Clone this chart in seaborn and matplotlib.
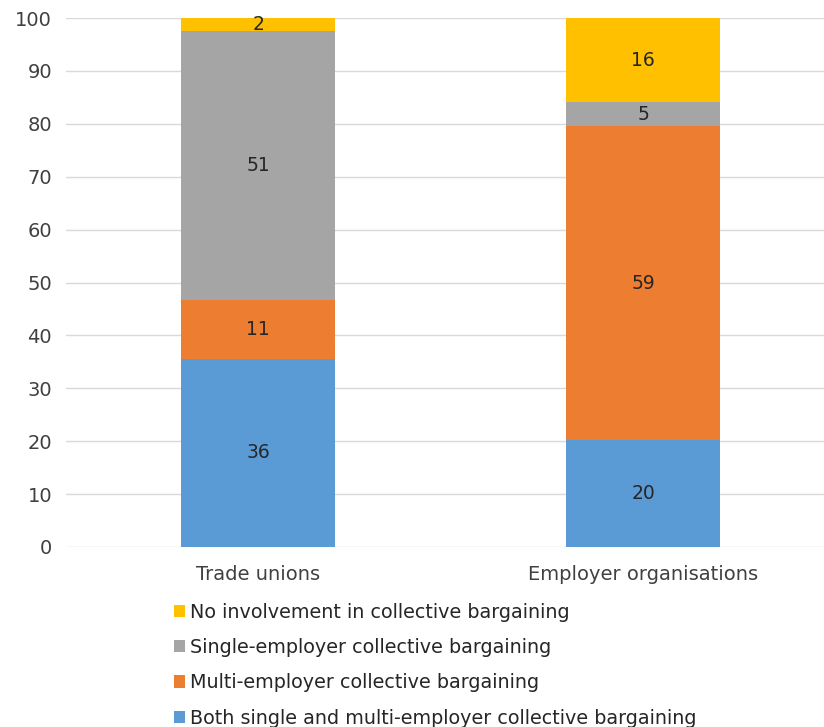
import matplotlib
matplotlib.use("Agg")
import matplotlib.pyplot as plt
import seaborn as sns
import pandas as pd
import numpy as np
from matplotlib.patches import Patch

categories = ["Trade unions", "Employer organisations"]
series_names = [
    "Both single and multi-employer collective bargaining",
    "Multi-employer collective bargaining",
    "Single-employer collective bargaining",
    "No involvement in collective bargaining",
]
both_vals = [35.6, 20.3]
multi_vals = [11.1, 59.2]
single_vals = [50.9, 4.6]
none_vals = [2.4, 15.9]
colors = ["#5B9BD5", "#ED7D31", "#A5A5A5", "#FFC000"]
yticks = [0, 10, 20, 30, 40, 50, 60, 70, 80, 90, 100]

sns.set_theme(style="white")
plt.rcParams["font.family"] = ["DejaVu Sans"]

fig = plt.figure(figsize=(8.24, 7.27), dpi=100)
ax = fig.add_axes([0.080, 0.2476, 0.92, 0.7276])

series = [both_vals, multi_vals, single_vals, none_vals]
bottom = np.zeros(len(categories))
for name, vals, col in zip(series_names, series, colors):
    df = pd.DataFrame({"cat": categories, "val": vals})
    sns.barplot(data=df, x="cat", y="val", color=col, bottom=bottom, width=0.4,
                ax=ax, saturation=1, edgecolor="none", linewidth=0, zorder=3)
    for i, v in enumerate(vals):
        ax.text(i, bottom[i] + v / 2, f"{round(v):d}", ha="center", va="center",
                fontsize=13.5, color="#262626", zorder=4)
    bottom = bottom + np.array(vals)

ax.set_xlim(-0.5, 1.47)
ax.set_ylim(0, 100)
ax.set_yticks(yticks)
ax.set_yticklabels([str(t) for t in yticks])
ax.yaxis.grid(True, color="#D9D9D9", linewidth=1, zorder=0)
ax.set_axisbelow(True)
for s in ax.spines.values():
    s.set_visible(False)
ax.set_xlabel("")
ax.set_ylabel("")
ax.tick_params(axis="both", length=0, labelsize=14, colors="#404040")
ax.tick_params(axis="x", pad=13)
ax.tick_params(axis="y", pad=10)

handles = [Patch(facecolor=c, edgecolor="none") for c in colors[::-1]]
labels = series_names[::-1]
fig.legend(handles, labels, loc="upper left", bbox_to_anchor=(0.211, 0.171),
           frameon=False, fontsize=13.8, handlelength=0.6, handleheight=0.6,
           handletextpad=0.25, labelspacing=0.85, labelcolor="#262626",
           borderaxespad=0, borderpad=0)

fig.savefig("out.png", dpi=100)
